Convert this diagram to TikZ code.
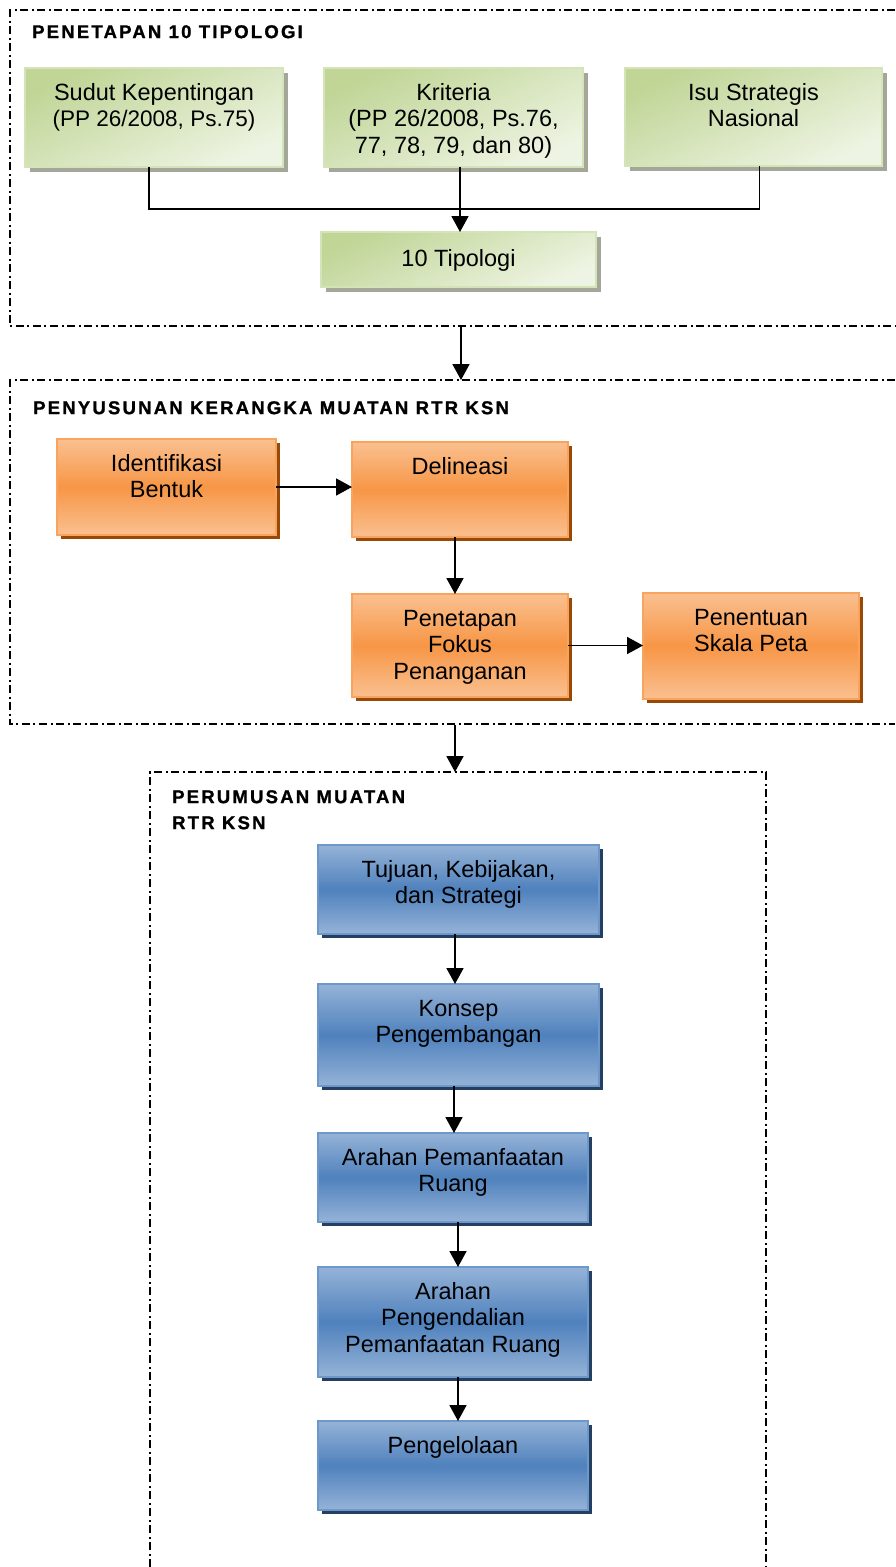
\documentclass[tikz,border=0pt]{standalone}
\usepackage{fontspec}
\setmainfont{Liberation Sans}
\newfontfamily\titlefont[LetterSpace=12,FakeBold=1.2]{Liberation Sans Bold}
\usetikzlibrary{arrows.meta,shadows}
\definecolor{gtop}{HTML}{C0D596}
\definecolor{gbot}{HTML}{EEF4E3}
\definecolor{gborder}{HTML}{D3E4B8}
\definecolor{gshadow}{HTML}{A3A698}
\definecolor{otop}{HTML}{FAC090}
\definecolor{omid}{HTML}{F79646}
\definecolor{oborder}{HTML}{F8A45E}
\definecolor{oshadow}{HTML}{984807}
\definecolor{btop}{HTML}{95B3D7}
\definecolor{bmid}{HTML}{4F81BD}
\definecolor{bborder}{HTML}{6E98CB}
\definecolor{bshadow}{HTML}{243F60}
\newcommand\bt[3]{\begin{minipage}[c][#2pt][t]{#1pt}\centering\fontsize{23.5}{26.5}\selectfont\rule{0pt}{32pt}#3\end{minipage}}
\tikzset{
  frameline/.style={line width=1.5pt, dash pattern=on 8pt off 3.5pt on 2pt off 3.5pt},
  conn/.style={line width=1.8pt},
  arr/.style={conn, -{Triangle[length=16pt,width=17pt]}},
  boxbase/.style={inner sep=0pt, outer sep=0pt, anchor=north west, line width=1.2pt},
  gbox/.style={boxbase, draw=gborder, top color=gtop, bottom color=gbot, shading angle=25,
    drop shadow={shadow xshift=4.5pt, shadow yshift=-4.5pt, fill=gshadow, opacity=1}},
  obox/.style={boxbase, draw=oborder, top color=otop, bottom color=otop, middle color=omid,
    drop shadow={shadow xshift=4pt, shadow yshift=-4pt, fill=oshadow, opacity=1}},
  bbox/.style={boxbase, draw=bborder, top color=btop, bottom color=btop, middle color=bmid,
    drop shadow={shadow xshift=4pt, shadow yshift=-4pt, fill=bshadow, opacity=1}},
  ttl/.style={inner sep=0pt, anchor=north west, align=left, font=\titlefont\fontsize{18.5}{26}\selectfont}
}
\begin{document}
\begin{tikzpicture}[x=1pt,y=-1pt]
\useasboundingbox (0,0) rectangle (895,1567);
\fill[white] (0,0) rectangle (895,1567);
% frames
\draw[frameline] (895,10) -- (10,10) -- (10,326) -- (895,326);
\draw[frameline] (895,380) -- (10,380) -- (10,724) -- (895,724);
\draw[frameline] (150,1567) -- (150,772) -- (766,772) -- (766,1567);
\coordinate (f1b) at (461,327);
\coordinate (f2t) at (461,380);
\coordinate (f2b) at (455,725);
\coordinate (f3t) at (455,772);
% titles
\node[ttl] (t1) at (32,25) {PENETAPAN 10 TIPOLOGI};
\node[ttl] (t2) at (33,401) {PENYUSUNAN KERANGKA MUATAN RTR KSN};
\node[ttl] (t3) at (172,790) {PERUMUSAN MUATAN\\RTR KSN};
% green
\node[gbox] (sudut) at (25,68) {\bt{258}{99}{Sudut Kepentingan\\{\fontsize{22.5}{26}\selectfont (PP 26/2008, Ps.75)}}};
\node[gbox] (kriteria) at (324,68) {\bt{259}{99}{Kriteria\\(PP 26/2008, Ps.76,\\77, 78, 79, dan 80)}};
\node[gbox] (isu) at (625,68) {\bt{257}{98}{Isu Strategis\\Nasional}};
\node[gbox] (tipologi) at (321,232) {\bt{275}{55}{\rule{0pt}{34pt}10 Tipologi}};
\draw[conn] ([xshift=-5pt]sudut.south) -- ++(0,42) -| ([xshift=6pt]isu.south);
\draw[arr] (kriteria.south -| 460,0) -- (tipologi.north -| 460,0);
\draw[arr] (f1b) -- (f2t);
% orange
\node[obox] (ident) at (57,439) {\bt{219}{96}{Identifikasi\\Bentuk}};
\node[obox] (delin) at (352,442) {\bt{216}{95}{Delineasi}};
\node[obox] (fokus) at (352,594) {\bt{216}{103}{Penetapan\\Fokus\\Penanganan}};
\node[obox] (skala) at (643,593) {\bt{216}{106}{Penentuan\\Skala Peta}};
\draw[arr] (ident.east) -- (ident.east -| delin.west);
\draw[arr] (delin.south -| 455,0) -- (fokus.north -| 455,0);
\draw[arr] (fokus.east) -- (fokus.east -| skala.west);
\draw[arr] (f2b) -- (f3t);
% blue
\node[bbox] (tujuan) at (318,845) {\bt{281}{89}{Tujuan, Kebijakan,\\dan Strategi}};
\node[bbox] (konsep) at (318,984) {\bt{281}{102}{Konsep\\Pengembangan}};
\node[bbox] (arahan1) at (318,1133) {\bt{270}{89}{Arahan Pemanfaatan\\Ruang}};
\node[bbox] (arahan2) at (318,1267) {\bt{270}{110}{Arahan\\Pengendalian\\Pemanfaatan Ruang}};
\node[bbox] (kelola) at (318,1421) {\bt{270}{89}{Pengelolaan}};
\draw[arr] (tujuan.south -| 455,0) -- (konsep.north -| 455,0);
\draw[arr] (konsep.south -| 454,0) -- (arahan1.north -| 454,0);
\draw[arr] (arahan1.south -| 458,0) -- (arahan2.north -| 458,0);
\draw[arr] (arahan2.south -| 458,0) -- (kelola.north -| 458,0);
\end{tikzpicture}
\end{document}
